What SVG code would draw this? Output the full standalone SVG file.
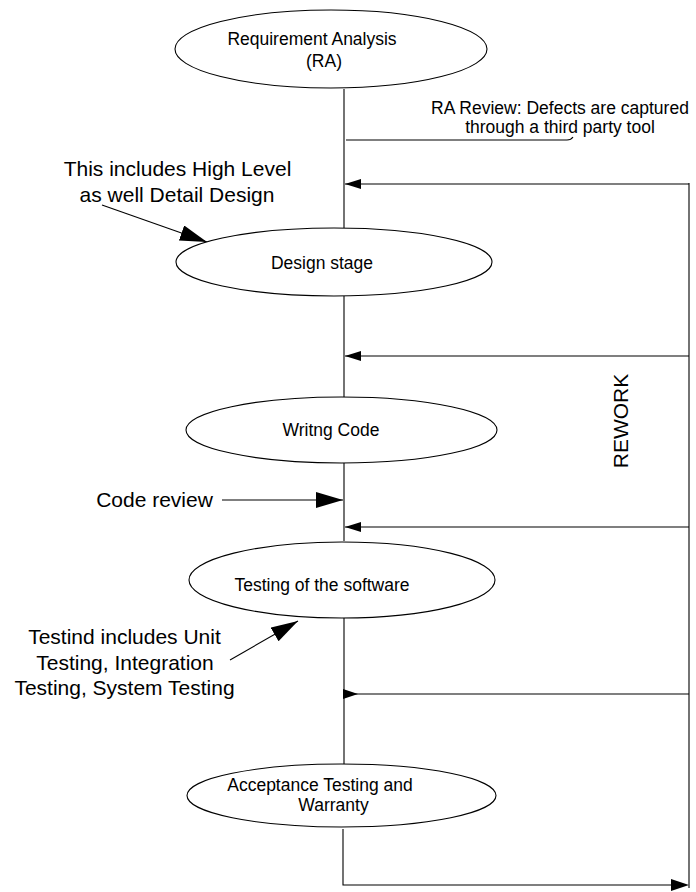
<svg xmlns="http://www.w3.org/2000/svg" width="696" height="892" viewBox="0 0 696 892">
<defs>
<style>
.node ellipse{fill:#fff;stroke:#000;stroke-width:1.1}
.t{font-family:"Liberation Sans",Arial,sans-serif;font-size:17.5px;fill:#000;text-anchor:middle}
.a{font-family:"Liberation Sans",Arial,sans-serif;font-size:21px;fill:#000;text-anchor:middle}
.ln{fill:none;stroke:#000;stroke-width:1.1}
</style>
<marker id="sm" markerUnits="userSpaceOnUse" markerWidth="18" markerHeight="12" refX="16" refY="5" orient="auto">
<path d="M0,0 L16,5 L0,10 z" fill="#000"/>
</marker>
<marker id="big" markerUnits="userSpaceOnUse" markerWidth="30" markerHeight="18" refX="27" refY="8" orient="auto">
<path d="M0,0 L27,8 L0,16 z" fill="#000"/>
</marker>
</defs>
<rect width="696" height="892" fill="#fff"/>
<g id="connectors">
<line class="ln" x1="344" y1="89" x2="344" y2="228"/>
<line class="ln" x1="344" y1="296" x2="344" y2="397"/>
<line class="ln" x1="344" y1="463" x2="344" y2="541"/>
<line class="ln" x1="344" y1="618" x2="344" y2="764"/>
<polyline class="ln" points="343,829 343,885 672,885"/>
<path d="M671,879 L689,885 L671,891 z" fill="#000"/>
<line class="ln" x1="689" y1="183" x2="689" y2="888"/>
<line class="ln" x1="689" y1="184" x2="345" y2="184" marker-end="url(#sm)"/>
<line class="ln" x1="689" y1="356" x2="345" y2="356" marker-end="url(#sm)"/>
<line class="ln" x1="689" y1="527" x2="345" y2="527" marker-end="url(#sm)"/>
<line class="ln" x1="689" y1="694" x2="344" y2="694"/>
<path d="M343,689 L358,694 L343,699 z" fill="#000"/>
<path class="ln" d="M346,140 L567,140 Q571,140 573,137"/>
<line class="ln" x1="102" y1="205" x2="207" y2="242" marker-end="url(#big)"/>
<line class="ln" x1="222" y1="500" x2="343" y2="500" marker-end="url(#big)"/>
<line class="ln" x1="230" y1="660" x2="298" y2="621" marker-end="url(#big)"/>
</g>
<g id="ra" class="node">
<ellipse cx="331" cy="49" rx="156" ry="39"/>
<text class="t" x="312" y="45">Requirement Analysis</text>
<text class="t" x="324" y="67">(RA)</text>
</g>
<g id="design" class="node">
<ellipse cx="334" cy="262" rx="158" ry="34"/>
<text class="t" x="322" y="269">Design stage</text>
</g>
<g id="code" class="node">
<ellipse cx="341.5" cy="430" rx="155.5" ry="33"/>
<text class="t" x="331" y="436">Writng Code</text>
</g>
<g id="testing" class="node">
<ellipse cx="342" cy="580" rx="153" ry="38"/>
<text class="t" x="322" y="591">Testing of the software</text>
</g>
<g id="acceptance" class="node">
<ellipse cx="341.5" cy="795.5" rx="154.5" ry="31.5"/>
<text class="t" x="320" y="791">Acceptance Testing and</text>
<text class="t" x="333.5" y="811">Warranty</text>
</g>
<g id="labels">
<text class="t" x="560" y="114" font-size="17">RA Review: Defects are captured</text>
<text class="t" x="560" y="133" font-size="17">through a third party tool</text>
<text class="a" x="177.5" y="176">This includes High Level</text>
<text class="a" x="177" y="202">as well Detail Design</text>
<text class="a" x="154.5" y="507">Code review</text>
<text class="a" x="124.5" y="644">Testind includes Unit</text>
<text class="a" x="125" y="670">Testing, Integration</text>
<text class="a" x="124.5" y="695">Testing, System Testing</text>
<text class="a" x="0" y="0" font-size="27" transform="translate(628,421) rotate(-90)">REWORK</text>
</g>
</svg>
